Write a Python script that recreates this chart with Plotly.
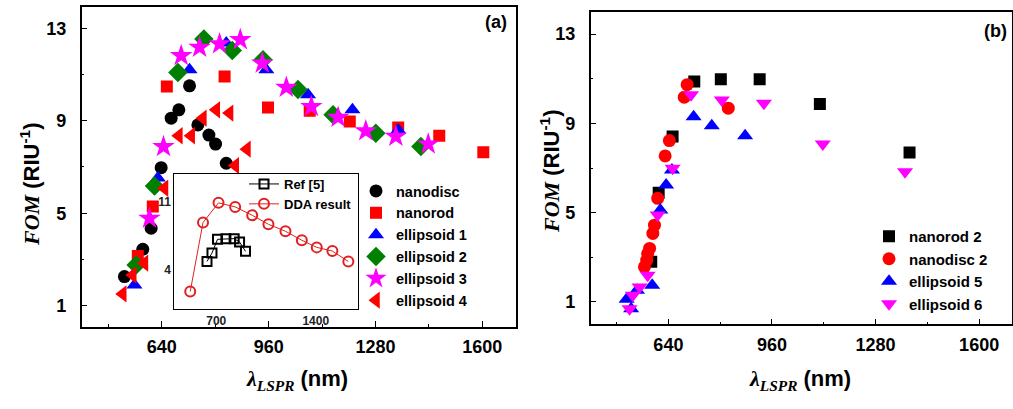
import plotly.graph_objects as go

W, H = 1013, 409

# ---------------- Panel (a) data ----------------
nanodisc_x = [528, 583, 608, 638, 668, 691, 723, 748, 781, 801, 833]
nanodisc_y = [2.26, 3.44, 4.35, 6.97, 9.11, 9.47, 10.51, 8.82, 8.38, 7.99, 7.16]

nanorod_x = [568, 613, 655, 828, 958, 1083, 1203, 1348, 1471, 1603]
nanorod_y = [3.15, 5.29, 10.48, 10.91, 9.57, 9.43, 8.97, 8.71, 8.35, 7.64]

ell1_x = [558, 628, 723, 833, 953, 1078, 1211, 1348]
ell1_y = [1.90, 6.52, 11.20, 12.36, 11.20, 10.12, 9.47, 8.60]

ell2_x = [563, 618, 688, 766, 851, 943, 1048, 1153, 1281, 1416]
ell2_y = [2.76, 6.18, 11.09, 12.53, 12.04, 11.64, 10.35, 9.26, 8.46, 7.88]

ell3_x = [603, 645, 698, 753, 813, 875, 941, 1013, 1088, 1168, 1251, 1341, 1438]
ell3_y = [4.78, 7.88, 11.81, 12.17, 12.32, 12.50, 11.49, 10.44, 9.61, 9.14, 8.56, 8.32, 7.99]

ell4_x = [523, 553, 588, 648, 691, 728, 763, 803, 843, 860, 895]
ell4_y = [1.51, 2.33, 2.84, 6.08, 8.35, 8.35, 9.11, 9.47, 9.33, 7.06, 7.77]

# inset
ref5_x = [635, 670, 709, 768, 826, 864, 906]
ref5_y = [4.86, 5.72, 7.14, 7.21, 7.21, 6.86, 5.90]
dda_x = [517, 607, 716, 833, 953, 1067, 1187, 1302, 1407, 1517, 1629]
dda_y = [1.76, 8.87, 10.90, 10.48, 9.62, 8.69, 7.97, 7.04, 6.31, 5.93, 4.86]

# ---------------- Panel (b) data ----------------
nanorod2_x = [587, 610, 653, 720, 802, 922, 1108, 1385]
nanorod2_y = [2.80, 5.89, 8.41, 10.87, 10.98, 10.98, 9.87, 7.69]

nanodisc2_x = [566, 573, 576, 582, 592, 597, 607, 630, 643, 689, 698, 825]
nanodisc2_y = [2.57, 2.87, 3.17, 3.40, 4.07, 4.44, 5.64, 7.54, 8.23, 10.17, 10.73, 9.68]

ell5_x = [511, 525, 543, 590, 615, 633, 651, 718, 774, 877]
ell5_y = [1.12, 0.70, 1.53, 1.75, 5.12, 6.24, 6.91, 9.30, 8.89, 8.44]

ell6_x = [520, 530, 551, 576, 607, 653, 710, 805, 935, 1117, 1371]
ell6_y = [0.70, 1.30, 1.67, 2.20, 4.89, 6.99, 10.28, 10.05, 9.90, 8.08, 6.83]

x_ticks = [640, 960, 1280, 1600]
y_ticks = [1, 5, 9, 13]
inset_x_ticks = [700, 1400]
inset_y_ticks = [4, 11]


def px_x(p):
    return p / W


def px_y(p):
    return 1 - p / H


fig = go.Figure()


def add(x, y, name, symbol, color, size, xa, ya, legend):
    fig.add_trace(go.Scatter(
        x=x, y=y, name=name, mode="markers",
        marker=dict(symbol=symbol, color=color, size=size, line=dict(width=0)),
        xaxis=xa, yaxis=ya, legend=legend, showlegend=True))


add(nanodisc_x, nanodisc_y, "nanodisc", "circle", "black", 13, "x", "y", "legend")
add(nanorod_x, nanorod_y, "nanorod", "square", "#ff0000", 12, "x", "y", "legend")
add(ell1_x, ell1_y, "ellipsoid 1", "triangle-up", "#0000ff", 14, "x", "y", "legend")
add(ell2_x, ell2_y, "ellipsoid 2", "diamond", "#008000", 15, "x", "y", "legend")
add(ell3_x, ell3_y, "ellipsoid 3", "star", "#ff00ff", 17, "x", "y", "legend")
add(ell4_x, ell4_y, "ellipsoid 4", "triangle-left", "#ff0000", 15, "x", "y", "legend")

add(nanorod2_x, nanorod2_y, "nanorod 2", "square", "black", 12, "x2", "y2", "legend2")
add(nanodisc2_x, nanodisc2_y, "nanodisc 2", "circle", "#ff0000", 13, "x2", "y2", "legend2")
add(ell5_x, ell5_y, "ellipsoid 5", "triangle-up", "#0000ff", 14, "x2", "y2", "legend2")
add(ell6_x, ell6_y, "ellipsoid 6", "triangle-down", "#ff00ff", 14, "x2", "y2", "legend2")

# inset traces
fig.add_trace(go.Scatter(
    x=ref5_x, y=ref5_y, name="Ref [5]", mode="lines+markers",
    line=dict(color="black", width=1),
    marker=dict(symbol="square-open", color="black", size=9, line=dict(width=2)),
    xaxis="x3", yaxis="y3", legend="legend3"))
fig.add_trace(go.Scatter(
    x=dda_x, y=dda_y, name="DDA result", mode="lines+markers",
    line=dict(color="#e02020", width=1),
    marker=dict(symbol="circle-open", color="#e02020", size=10, line=dict(width=2)),
    xaxis="x3", yaxis="y3", legend="legend3"))

tickfont = dict(family="Liberation Sans", size=18, color="black", weight="bold")

main_x = dict(range=[400, 1700], tickvals=x_ticks, ticks="inside", ticklen=6,
              tickwidth=1, tickcolor="black", showline=True, mirror=True,
              linecolor="black", linewidth=1.5, showgrid=False, zeroline=False,
              tickfont=tickfont, ticklabelstandoff=3,
              minor=dict(dtick=160, tick0=640, ticks="inside", ticklen=3,
                         tickcolor="black"))
main_y = dict(tickvals=y_ticks, ticks="inside", ticklen=6, tickwidth=1,
              tickcolor="black", showline=True, mirror=True, linecolor="black",
              linewidth=1.5, showgrid=False, zeroline=False, tickfont=tickfont,
              ticklabelstandoff=10,
              minor=dict(dtick=2, tick0=1, ticks="inside", ticklen=3,
                         tickcolor="black"))

legfont_a = dict(family="Liberation Sans", size=14.5, color="black", weight="bold")
legfont_b = dict(family="Liberation Sans", size=15, color="black", weight="bold")

fig.update_layout(
    width=W, height=H,
    margin=dict(l=0, r=0, t=0, b=0),
    paper_bgcolor="white", plot_bgcolor="white",
    xaxis=dict(main_x, domain=[px_x(81.7), px_x(515.7)], anchor="y"),
    yaxis=dict(main_y, range=[0.08, 13.93],
               domain=[px_y(327), px_y(6.7)], anchor="x"),
    xaxis2=dict(main_x, domain=[px_x(590.7), px_x(1011.5)], anchor="y2"),
    yaxis2=dict(main_y, range=[0.0, 14.0],
                domain=[px_y(324.3), px_y(11.7)], anchor="x2"),
    xaxis3=dict(range=[405, 1695], tickvals=inset_x_ticks, ticks="",
                showline=True, mirror=True, linecolor="black", linewidth=1,
                showgrid=False, zeroline=False,
                tickfont=dict(family="Liberation Sans", size=12, color="#222",
                              weight="bold"),
                domain=[px_x(174.3), px_x(357.7)], anchor="y3"),
    yaxis3=dict(range=[-0.07, 13.87], tickvals=inset_y_ticks, ticks="",
                showline=True, mirror=True, linecolor="black", linewidth=1,
                showgrid=False, zeroline=False,
                tickfont=dict(family="Liberation Sans", size=12, color="#222",
                              weight="bold"),
                domain=[px_y(309.3), px_y(174)], anchor="x3"),
    legend=dict(x=px_x(356), y=px_y(175), xanchor="left", yanchor="top",
                bgcolor="rgba(0,0,0,0)", font=legfont_a, itemsizing="trace"),
    legend2=dict(x=px_x(869), y=px_y(220), xanchor="left", yanchor="top",
                 bgcolor="rgba(0,0,0,0)", font=legfont_b, itemsizing="trace"),
    legend3=dict(x=px_x(244), y=px_y(169), xanchor="left", yanchor="top",
                 bgcolor="rgba(0,0,0,0)",
                 font=dict(family="Liberation Sans", size=13, color="black",
                           weight="bold")),
    showlegend=True,
)

serif = "font-family:Liberation Serif"
ytitle = (f"<span style='{serif}'><b><i>FOM</i></b></span>"
          "<b> (RIU<sup>-1</sup>)</b>")
xtitle = (f"<span style='{serif}'><b><i>λ</i></b><sub><b><i>LSPR</i></b></sub></span>"
          "<b> (nm)</b>")

annots = [
    dict(text="<b>(a)</b>", x=px_x(496), y=px_y(22), size=18),
    dict(text="<b>(b)</b>", x=px_x(995), y=px_y(31), size=18),
    dict(text=ytitle, x=px_x(30), y=px_y(185), size=22, angle=-90),
    dict(text=ytitle, x=px_x(550), y=px_y(172), size=22, angle=-90),
    dict(text=xtitle, x=px_x(297), y=px_y(380), size=22),
    dict(text=xtitle, x=px_x(800), y=px_y(380), size=22),
]
for a in annots:
    fig.add_annotation(
        text=a["text"], x=a["x"], y=a["y"], xref="paper", yref="paper",
        xanchor="center", yanchor="middle", showarrow=False,
        textangle=a.get("angle", 0),
        font=dict(family="Liberation Sans", size=a["size"], color="black"))

fig.write_html("out.html")
